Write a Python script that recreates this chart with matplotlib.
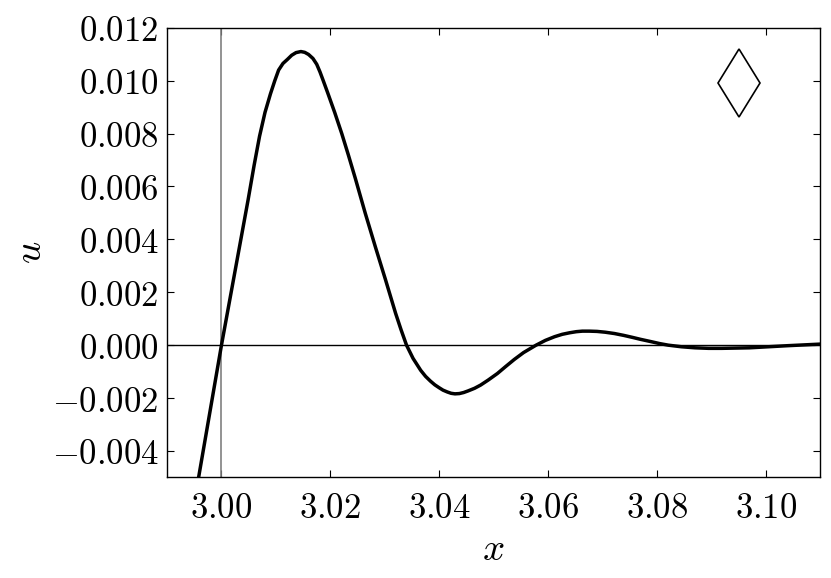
import matplotlib
matplotlib.use('Agg')
import matplotlib.pyplot as plt
from matplotlib.ticker import FuncFormatter, MultipleLocator

plt.rcParams['mathtext.fontset'] = 'cm'
plt.rcParams['font.family'] = 'serif'

# values
x_pts = [2.9958, 3.0000, 3.0049, 3.0060, 3.0070, 3.0080, 3.0090, 3.0098, 3.0105,
         3.0113, 3.0121, 3.0129, 3.0137, 3.0146, 3.0153, 3.0160, 3.0168, 3.0175,
         3.0181, 3.0187, 3.0195, 3.0208, 3.0221, 3.0233, 3.0246, 3.0264, 3.0283,
         3.0301, 3.0320, 3.0330, 3.0340, 3.0352, 3.0366, 3.0375, 3.0384, 3.0392,
         3.0400, 3.0407, 3.0415, 3.0422, 3.0429, 3.0437, 3.0445, 3.0453, 3.0465,
         3.0476, 3.0490, 3.0507, 3.0522, 3.0538, 3.0555, 3.0578, 3.0595, 3.0612,
         3.0626, 3.0640, 3.0652, 3.0663, 3.0676, 3.0690, 3.0705, 3.0722, 3.0739,
         3.0756, 3.0770, 3.0790, 3.0805, 3.0821, 3.0845, 3.0870, 3.0895, 3.0919,
         3.0945, 3.0970, 3.1005, 3.1040, 3.1070, 3.1100]
u_pts = [-0.0050, 0.0000, 0.0055, 0.0068, 0.0079, 0.0088, 0.0095, 0.0100, 0.0104,
         0.01065, 0.0108, 0.01096, 0.01106, 0.0111, 0.01107, 0.01099, 0.01084, 0.01062,
         0.01033, 0.0100, 0.00955, 0.0088, 0.0080, 0.0072, 0.0063, 0.0050, 0.0037,
         0.0025, 0.0012, 0.00058, 0.0000, -0.00050, -0.00095, -0.00118, -0.00136, -0.00150,
         -0.00161, -0.00170, -0.00177, -0.00182, -0.00184, -0.00183, -0.00179, -0.00173, -0.00163,
         -0.00151, -0.00132, -0.00107, -0.00081, -0.00054, -0.00028, 0.0000, 0.00018, 0.00032,
         0.00041, 0.00047, 0.00051, 0.00053, 0.00053, 0.00052, 0.00049, 0.00044, 0.00037,
         0.00029, 0.00022, 0.00013, 0.00006, 0.0000, -0.00006, -0.0001, -0.00012, -0.00012,
         -0.00011, -0.0001, -0.00006, -0.00002, 0.00001, 0.00004]
x_ref = 3.00
marker_x = 3.095
marker_u = 0.0099

fig = plt.figure(figsize=(8.31, 5.78), dpi=100)
ax = fig.add_axes([0.201, 0.174, 0.786, 0.778])

ax.axvline(x_ref, color='0.5', lw=1.2)
ax.axhline(0, color='k', lw=1.0)
ax.plot(x_pts, u_pts, color='k', lw=2.5)
ax.plot([marker_x], [marker_u], marker='d', ms=35, mfc='none', mec='k', mew=1.2)

ax.set_xlim(2.99, 3.11)
ax.set_ylim(-0.005, 0.012)
ax.xaxis.set_major_locator(MultipleLocator(0.02))
ax.yaxis.set_major_locator(MultipleLocator(0.002))
ax.xaxis.set_major_formatter(FuncFormatter(lambda v, p: r'$%.2f$' % v))
ax.yaxis.set_major_formatter(FuncFormatter(lambda v, p: r'$%.3f$' % (0 if abs(v) < 1e-9 else v)))
ax.tick_params(direction='in', top=True, right=True, length=5, width=0.8, labelsize=25)
ax.tick_params(axis='x', pad=10)
ax.tick_params(axis='y', pad=6)
for s in ax.spines.values():
    s.set_linewidth(1.0)

ax.set_xlabel(r'$x$', fontsize=28, labelpad=4)
ax.set_ylabel(r'$u$', fontsize=28, labelpad=2)

fig.savefig('out.png', dpi=100)
